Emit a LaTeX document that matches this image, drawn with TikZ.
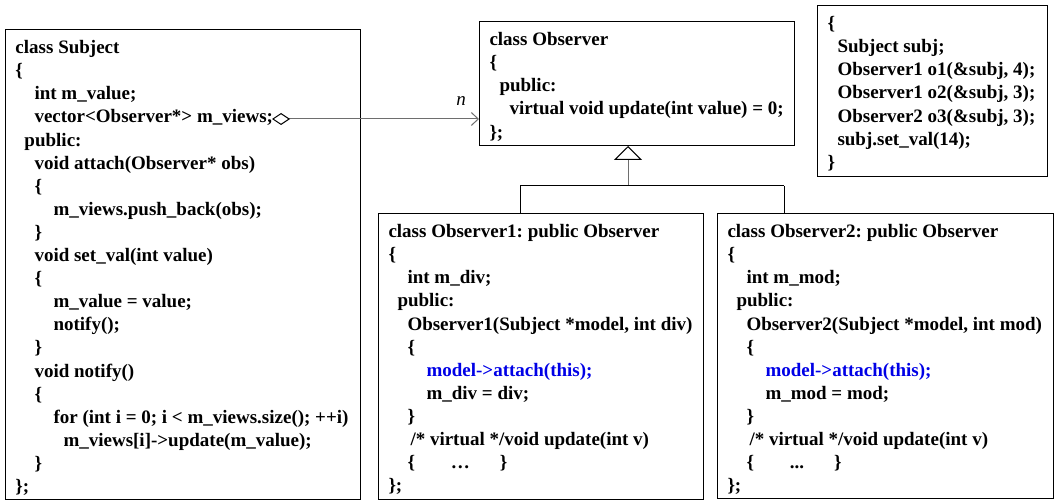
\documentclass[tikz,border=0pt]{standalone}
\usepackage{fontspec}
\setmainfont{Liberation Serif}
\usetikzlibrary{arrows.meta}
\definecolor{codeblue}{RGB}{0,0,230}
\definecolor{linkgray}{RGB}{110,110,110}
\frenchspacing
\tikzset{
  codebox/.style={draw, line width=1pt, anchor=north west, inner xsep=10pt, inner ysep=8pt,
    font=\fontsize{19}{23.1}\selectfont\bfseries},
  aggregate/.style={linkgray, line width=1pt,
    {Diamond[open,length=18pt,width=12pt,black]}-{Straight Barb[length=7pt,width=13pt]}},
  inherit/.style={linkgray, line width=1pt, -{Triangle[open,length=14pt,width=28pt,black]}},
  fork/.style={line width=1pt}
}

\begin{document}
\begin{tikzpicture}[x=1pt,y=-1pt]
\useasboundingbox (0,0) rectangle (1056,502);

% subject
\node[codebox] (subject) at (5,29) {\parbox[t][454pt][t]{335pt}{\begin{tabular}{@{}l@{}}
class Subject\\
\{\\
\hspace*{19pt}int m\_value;\\
\hspace*{19pt}vector<Observer*> m\_views;\\
\hspace*{9pt}public:\\
\hspace*{19pt}void attach(Observer* obs)\\
\hspace*{19pt}\{\\
\hspace*{38pt}m\_views.push\_back(obs);\\
\hspace*{19pt}\}\\
\hspace*{19pt}void set\_val(int value)\\
\hspace*{19pt}\{\\
\hspace*{38pt}m\_value = value;\\
\hspace*{38pt}notify();\\
\hspace*{19pt}\}\\
\hspace*{19pt}void notify()\\
\hspace*{19pt}\{\\
\hspace*{38pt}for (int i = 0; i < m\_views.size(); ++i)\\
\hspace*{48pt}m\_views[i]->update(m\_value);\\
\hspace*{19pt}\}\\
\};
\end{tabular}}};

% observer
\node[codebox] (observer) at (479,21) {\parbox[t][108pt][t]{295pt}{\begin{tabular}{@{}l@{}}
class Observer\\
\{\\
\hspace*{10pt}public:\\
\hspace*{20pt}virtual void update(int value) = 0;\\
\};
\end{tabular}}};

% observer1
\node[codebox] (obsone) at (378,213) {\parbox[t][270pt][t]{305pt}{\begin{tabular}{@{}l@{}}
class Observer1: public Observer\\
\{\\
\hspace*{19pt}int m\_div;\\
\hspace*{9pt}public:\\
\hspace*{19pt}Observer1(Subject *model, int div)\\
\hspace*{19pt}\{\\
\hspace*{38pt}\textcolor{codeblue}{model->attach(this);}\\
\hspace*{38pt}m\_div = div;\\
\hspace*{19pt}\}\\
\hspace*{22pt}/* virtual */void update(int v)\\
\hspace*{19pt}\{\hspace{36pt}\ldots\hspace{30pt}\}\\
\};
\end{tabular}}};

% observer2
\node[codebox] (obstwo) at (717,213) {\parbox[t][269pt][t]{316pt}{\begin{tabular}{@{}l@{}}
class Observer2: public Observer\\
\{\\
\hspace*{19pt}int m\_mod;\\
\hspace*{9pt}public:\\
\hspace*{19pt}Observer2(Subject *model, int mod)\\
\hspace*{19pt}\{\\
\hspace*{38pt}\textcolor{codeblue}{model->attach(this);}\\
\hspace*{38pt}m\_mod = mod;\\
\hspace*{19pt}\}\\
\hspace*{22pt}/* virtual */void update(int v)\\
\hspace*{19pt}\{\hspace{36pt}...\hspace{30pt}\}\\
\};
\end{tabular}}};

% client code
\node[codebox] (client) at (817,5) {\parbox[t][155pt][t]{210pt}{\begin{tabular}{@{}l@{}}
\{\\
\hspace*{10pt}Subject subj;\\
\hspace*{10pt}Observer1 o1(\&subj, 4);\\
\hspace*{10pt}Observer1 o2(\&subj, 3);\\
\hspace*{10pt}Observer2 o3(\&subj, 3);\\
\hspace*{10pt}subj.set\_val(14);\\
\}
\end{tabular}}};

% aggregation
\coordinate (aggstart) at (272,119);
\draw[aggregate] (aggstart) -- (aggstart -| observer.west);
\node[font=\fontsize{19}{23}\selectfont\itshape] (mult) at (461,101) {n};

% inheritance
\coordinate (fork) at (628,186);
\coordinate (forkleft) at (520,186);
\coordinate (forkright) at (784,186);
\draw[inherit] (fork) -- (fork |- observer.south);
\draw[fork] (forkleft) -- (forkright);
\draw[fork] (forkleft) -- (forkleft |- obsone.north);
\draw[fork] (forkright) -- (forkright |- obstwo.north);
\end{tikzpicture}
\end{document}
